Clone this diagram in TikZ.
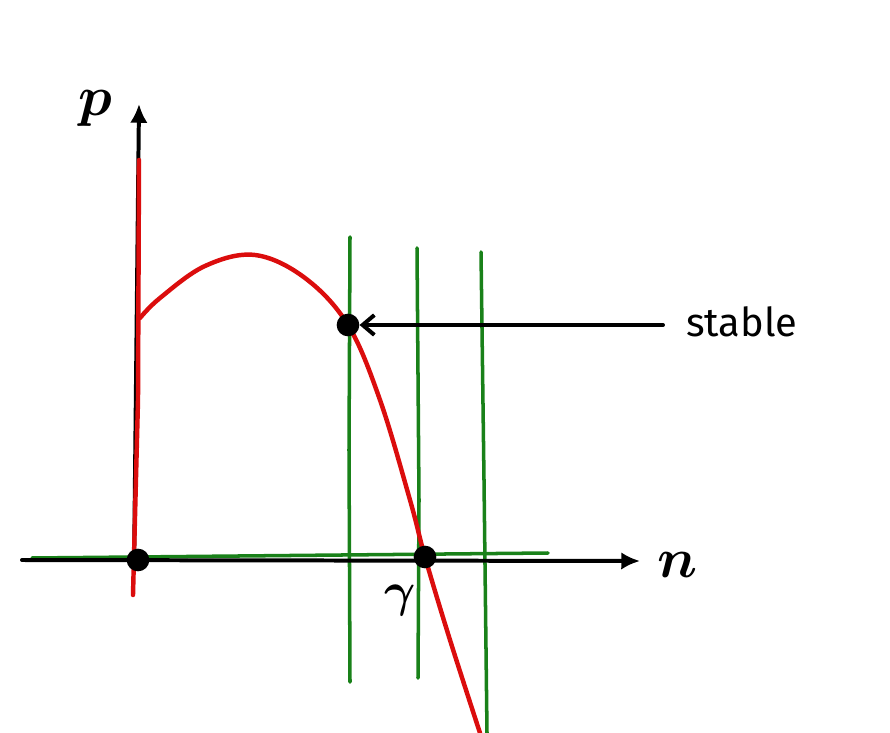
\documentclass[tikz,border=0pt]{standalone}
\usepackage{fontspec}
\usepackage{amsmath}
\usepackage{graphicx}
\usetikzlibrary{arrows.meta}
\newfontfamily\handfont{Fira Sans}
\newcommand{\biglbl}[2][4.8]{\scalebox{#1}{$\boldsymbol{#2}$}}
\begin{document}
\begin{tikzpicture}[x=0.03cm,y=-0.03cm,
  axisline/.style={line width=3.4pt,black,line cap=round},
  redline/.style={line width=3.8pt,red!85!black!95,line cap=round},
  greenline/.style={line width=3pt,green!45!black!90,line cap=round},
  dotnode/.style={circle,fill=black,minimum size=0.68cm,inner sep=0pt},
  lbl/.style={inner sep=0pt}]
\useasboundingbox (0,0) rectangle (890,733);
% coordinates
\coordinate (xs) at (22,560);
\coordinate (xe) at (640,561);
\coordinate (ys) at (134,570);
\coordinate (ye) at (139,104);
% green lines
\draw[greenline] (32,558) -- (548,553);
\draw[greenline] (350,237) -- (349,450) -- (350,682);
\draw[greenline] (417,248) -- (419,500) -- (418,678);
\draw[greenline] (481,252) -- (484,480) -- (487,733);
% axes
\draw[axisline,-{Latex[length=16pt,width=15pt]}] (xs) -- (xe);
\draw[axisline,-{Latex[length=16pt,width=15pt]}] (ys) -- (ye);
% red
\draw[redline] (139,160) -- (138,400) -- (133,595);
\draw[redline] plot[smooth,tension=0.6] coordinates {(140,318) (160,298) (205,266) (255,255) (305,278) (348,325) (380,400) (410,500) (425,557) (450,640) (480,733)};
% dots
\node[dotnode] (o) at (138,560) {};
\node[dotnode] (g) at (425,557) {};
\node[dotnode] (s) at (348,325) {};
% labels
\node[lbl] (p) at (95,108) {\biglbl{p}};
\node[lbl] (n) at (678,565) {\biglbl{n}};
\node[lbl] (gam) at (400,600) {\biglbl[4.1]{\gamma}};
\node[font=\handfont\fontsize{34}{36}\selectfont,anchor=west] (st) at (682,322) {stable};
\coordinate (ast) at (663,325);
\draw[axisline,-{Straight Barb[length=10pt,width=17pt]}] (ast) -- (s.east);
\end{tikzpicture}
\end{document}
